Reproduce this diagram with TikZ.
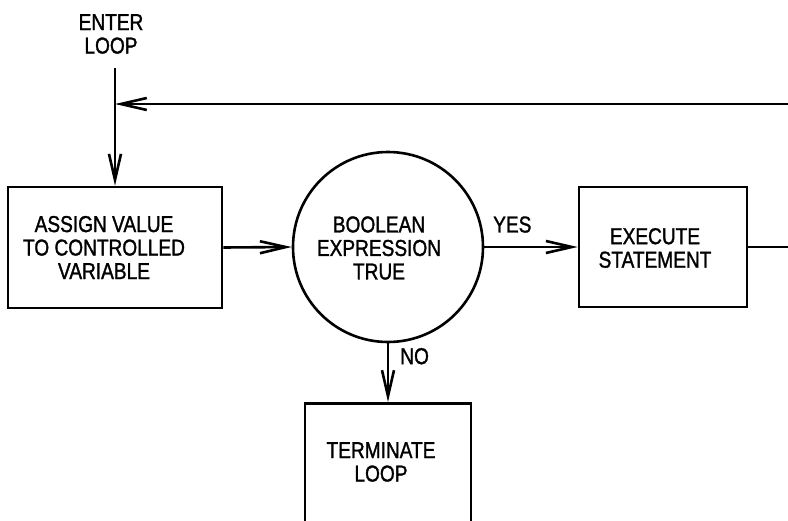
\documentclass[tikz,border=0pt]{standalone}
\usepackage{fontspec}
\setmainfont{Liberation Sans}[FakeStretch=0.83, FakeBold=1.3]
\usetikzlibrary{arrows.meta}
\begin{document}
\begin{tikzpicture}[x=1pt,y=-1pt, line width=2.6pt,
  box/.style={draw, rectangle, inner sep=0pt},
  lbl/.style={font=\fontsize{23}{23.5}\selectfont, align=center, inner sep=0pt},
  arr/.style={-{Straight Barb[length=26pt,width=12pt]}}]
\clip (0,0) rectangle (788,520);
\useasboundingbox (0,0) rectangle (788,520);
% nodes
\node[lbl] (enter) at (111,34) {ENTER\\LOOP};
\coordinate (start) at (115,68);
\coordinate (fbJ) at (115,104);
\coordinate (fbR) at (788,104);
\node[box, minimum width=214pt, minimum height=121pt] (assign) at (115,247.5) {};
\node[lbl] (assigntxt) at (104,247.5) {ASSIGN VALUE\\TO CONTROLLED\\VARIABLE};
\node[draw, circle, inner sep=0pt, minimum size=190pt] (bool) at (388,247) {};
\node[lbl] (booltxt) at (379,248) {BOOLEAN\\EXPRESSION\\TRUE};
\node[box, minimum width=168pt, minimum height=120pt] (exec) at (663,247) {};
\node[lbl] (exectxt) at (655,248) {EXECUTE\\STATEMENT};
\coordinate (execR) at (788,247);
\node[box, anchor=north, minimum width=166pt, minimum height=140pt] (term) at (388,402) {};
\node[lbl] (termtxt) at (381,462) {TERMINATE\\LOOP};
% connectors
\draw[arr] (start) -- (assign.north);
\draw[arr] (fbR) -- (fbJ);
\draw[arr] (assign.east) -- (bool.west);
\draw[arr] (bool.east) -- node[lbl, pos=0.3, above=13pt] (yes) {YES} (exec.west);
\draw (exec.east) -- (execR);
\draw[arr] (bool.south) -- node[lbl, pos=0.22, right=11pt] (no) {NO} (term.north);
\end{tikzpicture}
\end{document}
